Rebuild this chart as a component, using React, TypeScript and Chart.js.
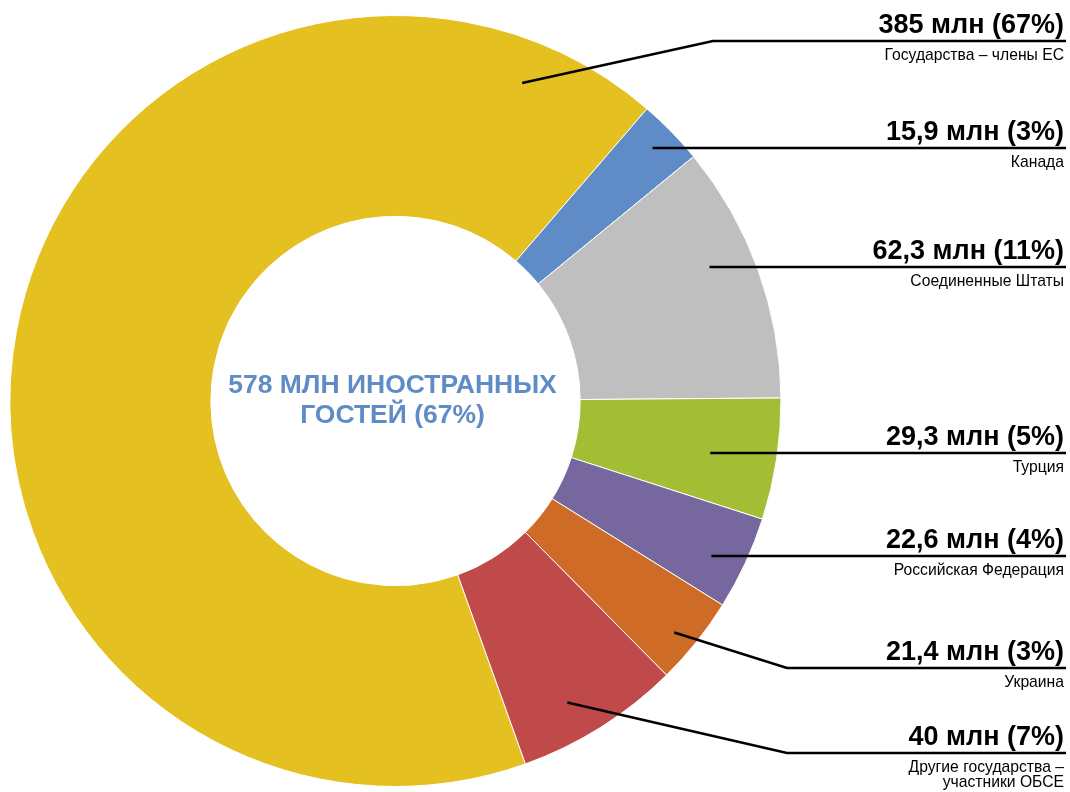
import React, { useEffect, useRef } from "react";
import { Chart, registerables } from "chart.js";

Chart.register(...registerables);

// ---- data ----
const categoryLines: string[][] = [
  ["Государства – члены ЕС"],
  ["Канада"],
  ["Соединенные Штаты"],
  ["Турция"],
  ["Российская Федерация"],
  ["Украина"],
  ["Другие государства –", "участники ОБСЕ"],
];
const values: number[] = [385, 15.9, 62.3, 29.3, 22.6, 21.4, 40];
const percents: number[] = [67, 3, 11, 5, 4, 3, 7];
const centerLines: string[] = ["578 МЛН ИНОСТРАННЫХ", "ГОСТЕЙ (67%)"];

// ---- styles / layout ----
const colors: string[] = ["#E5C021", "#5F8BC7", "#BFBFBF", "#A3BE35", "#77679F", "#CD6B27", "#C0494A"];
const labelLineY: number[] = [41, 148, 267, 453, 556, 668, 753];
const elbowX: (number | null)[] = [713, null, null, null, null, 787, 787];
const anchorFrac: number[] = [0.921, 0.5, 0.416, 0.5, 0.58, 0.58, 0.6];
const anchorRad: number[] = [0.888, 0.932, 0.886, 0.826, 0.912, 0.94, 0.9];

const FONT = "'Liberation Sans', Arial, Helvetica, sans-serif";

const fmt = (v: number) => String(v).replace(".", ",");

const labelPlugin = {
  id: "labelPlugin",
  afterDatasetsDraw(chart: any) {
    const ctx = chart.ctx as CanvasRenderingContext2D;
    const meta = chart.getDatasetMeta(0);
    const arcs = meta.data;
    if (!arcs.length) return;
    const cx = arcs[0].x;
    const cy = arcs[0].y;
    ctx.save();
    // center text
    ctx.fillStyle = "#5F8BC7";
    ctx.font = `bold 26.5px ${FONT}`;
    ctx.textAlign = "center";
    ctx.textBaseline = "alphabetic";
    ctx.fillText(centerLines[0], cx - 3, cy - 8);
    ctx.fillText(centerLines[1], cx - 3, cy + 22);

    const rightX = 1066;
    arcs.forEach((arc: any, i: number) => {
      const a = arc.startAngle + anchorFrac[i] * (arc.endAngle - arc.startAngle);
      const r = arc.outerRadius * anchorRad[i];
      const ax = cx + r * Math.cos(a);
      const ay = cy + r * Math.sin(a);
      const ly = labelLineY[i];
      ctx.strokeStyle = "#000";
      ctx.lineWidth = 2.6;
      ctx.lineCap = "butt";
      ctx.beginPath();
      const ex = elbowX[i];
      if (ex != null) {
        ctx.moveTo(ax, ay);
        ctx.lineTo(ex, ly);
        ctx.lineTo(rightX, ly);
      } else {
        ctx.moveTo(ax, ly);
        ctx.lineTo(rightX, ly);
      }
      ctx.stroke();

      ctx.fillStyle = "#000";
      ctx.textAlign = "right";
      ctx.font = `bold 27px ${FONT}`;
      ctx.fillText(`${fmt(values[i])} млн (${percents[i]}%)`, 1064, ly - 8);
      ctx.font = `15.7px ${FONT}`;
      categoryLines[i].forEach((t, k) => {
        ctx.fillText(t, 1064, ly + 19 + k * 15);
      });
    });
    ctx.restore();
  },
};

export default function App() {
  const ref = useRef<HTMLCanvasElement | null>(null);
  useEffect(() => {
    document.body.style.margin = "0";
    if (!ref.current) return;
    const chart = new Chart(ref.current, {
      type: "doughnut",
      data: {
        labels: categoryLines.map((l) => l.join(" ")),
        datasets: [
          {
            data: values,
            backgroundColor: colors,
            borderColor: "#FFFFFF",
            borderWidth: 1,
          },
        ],
      },
      options: {
        responsive: false,
        animation: false,
        cutout: "47.9%",
        rotation: 160.3,
        layout: { padding: { left: 9, top: 15, right: 288, bottom: 5 } },
        plugins: {
          legend: { display: false },
          tooltip: { enabled: false },
        },
      },
      plugins: [labelPlugin],
    });
    return () => chart.destroy();
  }, []);
  return (
    <div style={{ position: "fixed", left: 0, top: 0, width: 1070, height: 792, background: "#fff" }}>
      <canvas ref={ref} width={1070} height={792} />
    </div>
  );
}
